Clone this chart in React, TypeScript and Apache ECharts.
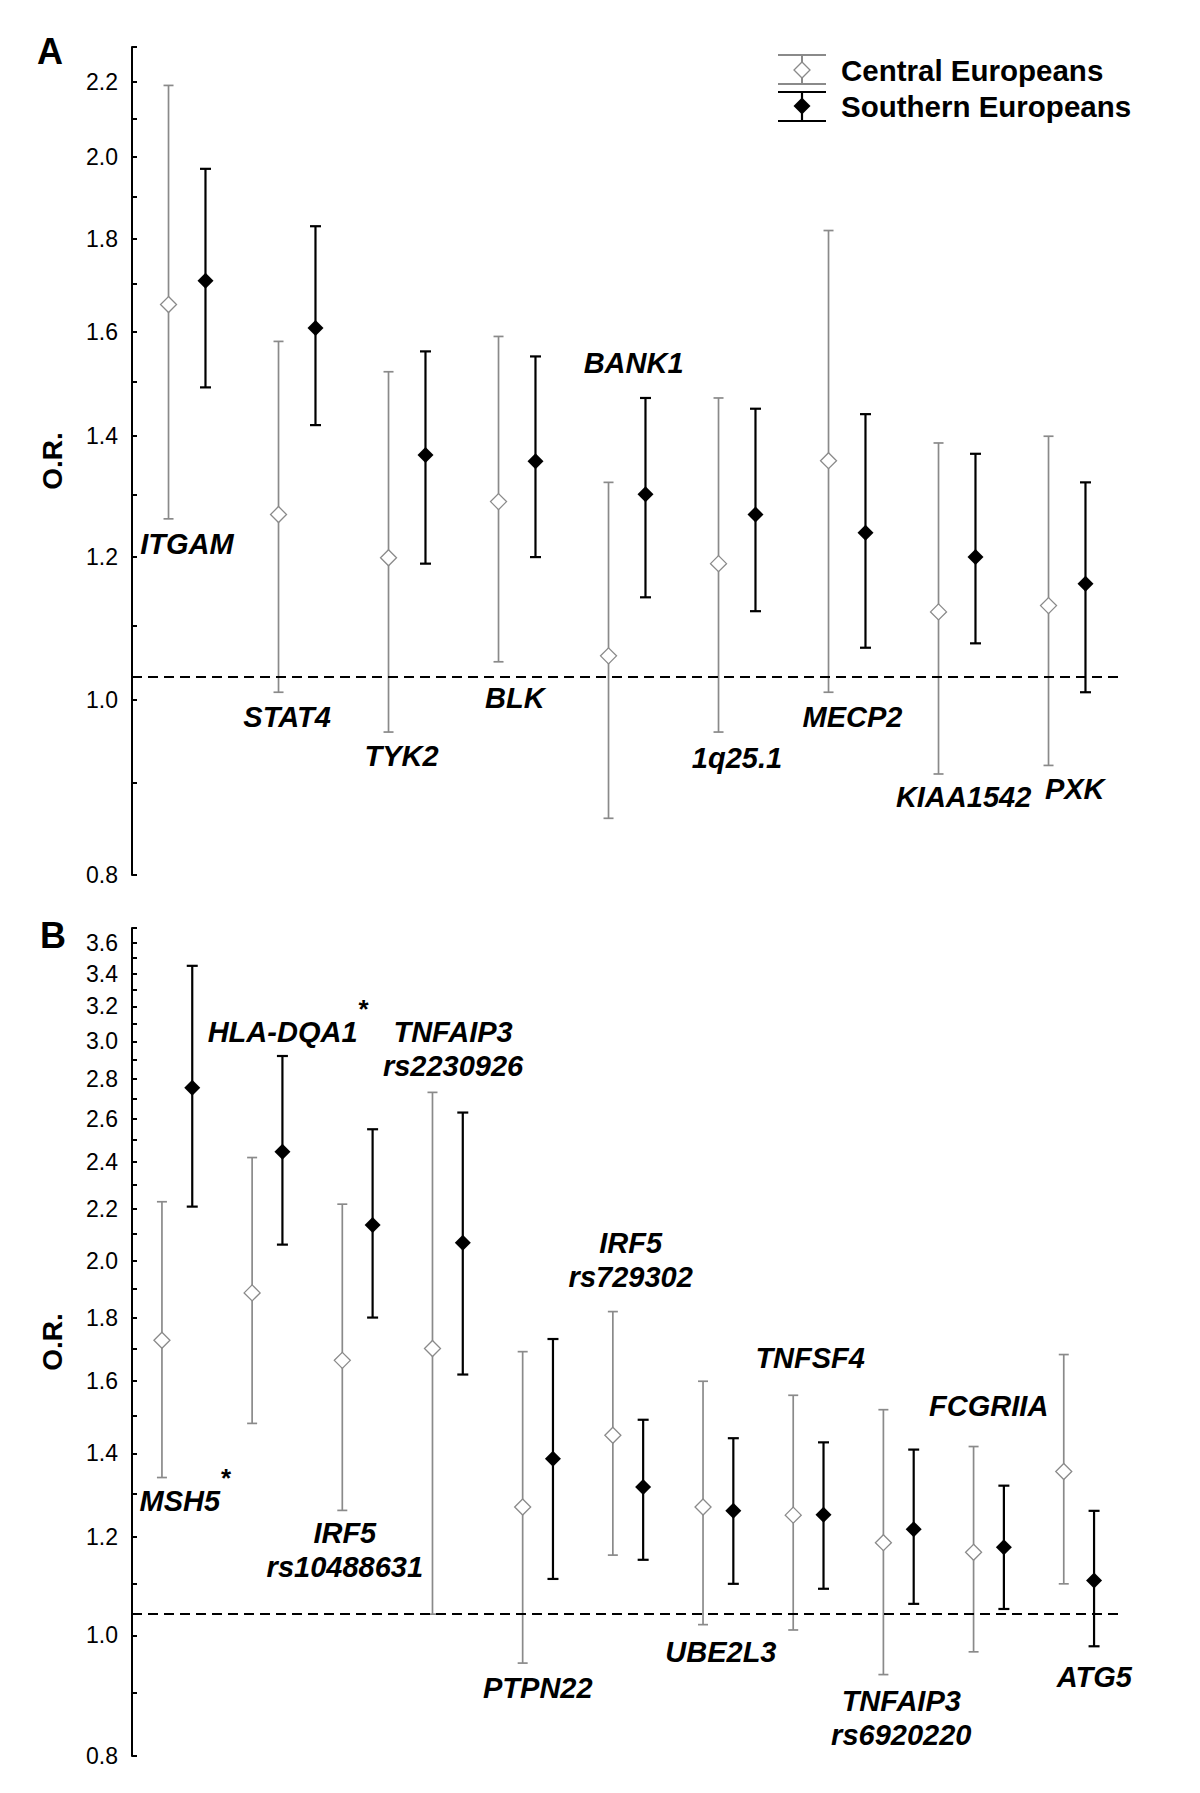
import React, { useEffect, useRef } from 'react';
import * as echarts from 'echarts';

// ---------- Data: panel A ----------
const genesA = ['ITGAM', 'STAT4', 'TYK2', 'BLK', 'BANK1', '1q25.1', 'MECP2', 'KIAA1542', 'PXK'];
const centralOrA = [1.656, 1.267, 1.199, 1.288, 1.058, 1.19, 1.357, 1.119, 1.128];
const centralLoA = [1.26, 1.01, 0.96, 1.05, 0.86, 0.96, 1.01, 0.91, 0.92];
const centralHiA = [2.19, 1.58, 1.52, 1.59, 1.32, 1.47, 1.82, 1.388, 1.4];
const southOrA = [1.707, 1.607, 1.367, 1.356, 1.3, 1.267, 1.238, 1.2, 1.16];
const southLoA = [1.49, 1.42, 1.19, 1.2, 1.14, 1.12, 1.069, 1.075, 1.01];
const southHiA = [1.969, 1.83, 1.56, 1.55, 1.47, 1.45, 1.44, 1.369, 1.32];

// ---------- Data: panel B ----------
const genesB = ['MSH5', 'HLA-DQA1', 'IRF5\nrs10488631', 'TNFAIP3\nrs2230926', 'PTPN22', 'IRF5\nrs729302', 'UBE2L3', 'TNFSF4', 'TNFAIP3\nrs6920220', 'FCGRIIA', 'ATG5'];
const starredB = [true, true, false, false, false, false, false, false, false, false, false];
const centralOrB = [1.726, 1.884, 1.663, 1.7, 1.268, 1.448, 1.268, 1.249, 1.187, 1.166, 1.354];
const centralLoB = [1.339, 1.48, 1.26, 1.04, 0.95, 1.16, 1.02, 1.01, 0.93, 0.97, 1.1];
const centralHiB = [2.23, 2.42, 2.22, 2.73, 1.69, 1.82, 1.6, 1.559, 1.518, 1.418, 1.681];
const southOrB = [2.754, 2.446, 2.136, 2.067, 1.386, 1.316, 1.259, 1.25, 1.217, 1.177, 1.107];
const southLoB = [2.21, 2.06, 1.8, 1.62, 1.11, 1.15, 1.1, 1.09, 1.06, 1.05, 0.98];
const southHiB = [3.45, 2.92, 2.55, 2.63, 1.73, 1.49, 1.44, 1.429, 1.41, 1.319, 1.259];

// reference lines (as drawn)
const refLineA = 1.027;
const refLineB = 1.04;

// ---------- Axis ticks ----------
const ticksA = [0.8, 0.9, 1.0, 1.1, 1.2, 1.3, 1.4, 1.5, 1.6, 1.7, 1.8, 1.9, 2.0, 2.1, 2.2, 2.3];
const tickLabelsA = [0.8, 1.0, 1.2, 1.4, 1.6, 1.8, 2.0, 2.2];
const ticksB = [0.8, 0.9, 1.0, 1.1, 1.2, 1.3, 1.4, 1.5, 1.6, 1.7, 1.8, 1.9, 2.0, 2.1, 2.2, 2.3, 2.4, 2.5, 2.6, 2.7, 2.8, 2.9, 3.0, 3.1, 3.2, 3.3, 3.4, 3.5, 3.6, 3.7];
const tickLabelsB = [0.8, 1.0, 1.2, 1.4, 1.6, 1.8, 2.0, 2.2, 2.4, 2.6, 2.8, 3.0, 3.2, 3.4, 3.6];

// ---------- Layout: label anchors [category position, O.R. value] ----------
const labelAnchorA = [[0.0, 1.22], [0.91, 0.979], [1.95, 0.931], [2.98, 1.003], [4.06, 1.538], [5.0, 0.929], [6.05, 0.979], [7.06, 0.884], [8.07, 0.893]];
const labelAnchorB = [[0.03, 1.283], [1.17, 3.051], [1.86, 1.172], [3.06, 2.957], [4.0, 0.907], [5.03, 2.004], [6.03, 0.97], [7.02, 1.669], [8.03, 0.858], [9.0, 1.527], [10.17, 0.926]];

const FONT = '"Liberation Sans", Arial, Helvetica, sans-serif';
const GRAY = '#8a8a8a';
const BLACK = '#000000';
const OFFSET = 0.168;
const LABEL_FONT = `italic bold 29px ${FONT}`;

function measure(text: string, font: string): number {
  const c = document.createElement('canvas').getContext('2d');
  if (!c) return text.length * 16;
  c.font = font;
  return c.measureText(text).width;
}

function errorBarSeries(axisIdx: number, lo: number[], hi: number[], offset: number, color: string, width: number, capHalf: number) {
  return {
    type: 'custom',
    xAxisIndex: axisIdx,
    yAxisIndex: axisIdx,
    clip: false,
    silent: true,
    z: 2,
    encode: { x: 0, y: [1, 2] },
    data: lo.map((l, i) => [i, l, hi[i]]),
    renderItem: (_params: any, api: any) => {
      const x = api.value(0) + offset;
      const p1 = api.coord([x, api.value(1)]);
      const p2 = api.coord([x, api.value(2)]);
      const style = { stroke: color, lineWidth: width, fill: 'none' };
      return {
        type: 'group',
        children: [
          { type: 'line', shape: { x1: p1[0], y1: p1[1], x2: p2[0], y2: p2[1] }, style },
          { type: 'line', shape: { x1: p1[0] - capHalf, y1: p1[1], x2: p1[0] + capHalf, y2: p1[1] }, style },
          { type: 'line', shape: { x1: p2[0] - capHalf, y1: p2[1], x2: p2[0] + capHalf, y2: p2[1] }, style },
        ],
      };
    },
  };
}

function pointSeries(axisIdx: number, name: string, ors: number[], offset: number, hollow: boolean, refLine?: number) {
  const s: any = {
    type: 'scatter',
    name,
    xAxisIndex: axisIdx,
    yAxisIndex: axisIdx,
    symbol: 'diamond',
    symbolSize: hollow ? [16, 16] : [16, 16],
    z: 5,
    silent: true,
    itemStyle: hollow
      ? { color: '#ffffff', borderColor: GRAY, borderWidth: 1.3, opacity: 1 }
      : { color: BLACK, borderColor: BLACK, borderWidth: 0, opacity: 1 },
    data: ors.map((v, i) => [i + offset, v]),
  };
  if (refLine !== undefined) {
    s.markLine = {
      silent: true,
      symbol: ['none', 'none'],
      label: { show: false },
      lineStyle: { color: BLACK, width: 2, type: [10, 6] },
      data: [{ yAxis: refLine }],
    };
  }
  return s;
}

function labelSeries(axisIdx: number, names: string[], anchors: number[][], stars?: boolean[]) {
  return {
    type: 'custom',
    xAxisIndex: axisIdx,
    yAxisIndex: axisIdx,
    clip: false,
    silent: true,
    z: 6,
    encode: { x: 0, y: 1 },
    data: anchors.map((a, i) => [a[0], a[1], i]),
    renderItem: (_params: any, api: any) => {
      const idx = api.value(2);
      const p = api.coord([api.value(0), api.value(1)]);
      const text = names[idx];
      const children: any[] = [
        {
          type: 'text',
          x: p[0],
          y: p[1],
          style: {
            text,
            font: LABEL_FONT,
            fill: BLACK,
            align: 'center',
            verticalAlign: 'middle',
            lineHeight: 34,
          },
        },
      ];
      if (stars && stars[idx]) {
        const w = measure(text, LABEL_FONT);
        children.push({
          type: 'text',
          x: p[0] + w / 2 + 1,
          y: p[1] - 23,
          style: { text: '*', font: `bold 26px ${FONT}`, fill: BLACK, align: 'left', verticalAlign: 'middle' },
        });
      }
      return { type: 'group', children };
    },
  };
}

function yAxisCfg(gridIndex: number, max: number, ticks: number[], labels: number[]) {
  return {
    type: 'log',
    gridIndex,
    logBase: 10,
    min: 0.8,
    max,
    name: 'O.R.',
    nameLocation: 'middle',
    nameRotate: 90,
    nameGap: 66,
    nameTextStyle: { fontFamily: FONT, fontWeight: 'bold', fontSize: 28, color: BLACK },
    axisLine: { show: true, onZero: false, lineStyle: { color: BLACK, width: 2 } },
    axisTick: { show: true, inside: true, length: 5, lineStyle: { color: BLACK, width: 2 }, customValues: ticks },
    minorTick: { show: false },
    axisLabel: {
      show: true,
      customValues: labels,
      formatter: (v: number) => Number(v).toFixed(1),
      fontFamily: FONT,
      fontSize: 23,
      color: BLACK,
      margin: 14,
    },
    splitLine: { show: false },
  };
}

function xAxisCfg(gridIndex: number, n: number) {
  return { type: 'value', gridIndex, min: -0.5, max: n - 0.5, show: false, axisLine: { onZero: false } };
}

export default function App() {
  const ref = useRef<HTMLDivElement>(null);
  useEffect(() => {
    document.body.style.margin = '0';
    if (!ref.current) return;
    const chart = echarts.init(ref.current, null, { renderer: 'svg' });
    const legendLine = (x1: number, y1: number, x2: number, y2: number, color: string, w: number) => ({
      type: 'line',
      shape: { x1, y1, x2, y2 },
      style: { stroke: color, lineWidth: w },
      silent: true,
    });
    const option: any = {
      animation: false,
      backgroundColor: '#ffffff',
      grid: [
        { left: 132, top: 47, width: 990, height: 828 },
        { left: 132, top: 928, width: 992, height: 828 },
      ],
      xAxis: [xAxisCfg(0, genesA.length), xAxisCfg(1, genesB.length)],
      yAxis: [yAxisCfg(0, 2.3, ticksA, tickLabelsA), yAxisCfg(1, 3.7, ticksB, tickLabelsB)],
      series: [
        errorBarSeries(0, centralLoA, centralHiA, -OFFSET, GRAY, 1.7, 5),
        errorBarSeries(0, southLoA, southHiA, OFFSET, BLACK, 2.2, 5.5),
        pointSeries(0, 'Central Europeans', centralOrA, -OFFSET, true, refLineA),
        pointSeries(0, 'Southern Europeans', southOrA, OFFSET, false),
        labelSeries(0, genesA, labelAnchorA),
        errorBarSeries(1, centralLoB, centralHiB, -OFFSET, GRAY, 1.7, 5),
        errorBarSeries(1, southLoB, southHiB, OFFSET, BLACK, 2.2, 5.5),
        pointSeries(1, 'Central Europeans', centralOrB, -OFFSET, true, refLineB),
        pointSeries(1, 'Southern Europeans', southOrB, OFFSET, false),
        labelSeries(1, genesB, labelAnchorB, starredB),
      ],
      graphic: [
        { type: 'text', x: 37, y: 51, style: { text: 'A', font: `bold 36px ${FONT}`, fill: BLACK, verticalAlign: 'middle' } },
        { type: 'text', x: 40, y: 935, style: { text: 'B', font: `bold 36px ${FONT}`, fill: BLACK, verticalAlign: 'middle' } },
        legendLine(778, 55, 826, 55, GRAY, 2),
        legendLine(778, 84, 826, 84, GRAY, 2),
        legendLine(802, 55, 802, 84, GRAY, 2),
        {
          type: 'polygon',
          shape: { points: [[802, 62], [810, 70], [802, 78], [794, 70]] },
          style: { fill: '#ffffff', stroke: GRAY, lineWidth: 1.3 },
          silent: true,
        },
        legendLine(778, 92, 826, 92, BLACK, 2.2),
        legendLine(778, 121, 826, 121, BLACK, 2.2),
        legendLine(802, 92, 802, 121, BLACK, 2.2),
        {
          type: 'polygon',
          shape: { points: [[802, 97.5], [810.5, 106], [802, 114.5], [793.5, 106]] },
          style: { fill: BLACK },
          silent: true,
        },
        { type: 'text', x: 841, y: 70, style: { text: 'Central Europeans', font: `bold 29.5px ${FONT}`, fill: BLACK, verticalAlign: 'middle' } },
        { type: 'text', x: 841, y: 106, style: { text: 'Southern Europeans', font: `bold 29.5px ${FONT}`, fill: BLACK, verticalAlign: 'middle' } },
      ],
    };
    chart.setOption(option);
    return () => chart.dispose();
  }, []);
  return <div ref={ref} style={{ width: 1200, height: 1793 }} />;
}
